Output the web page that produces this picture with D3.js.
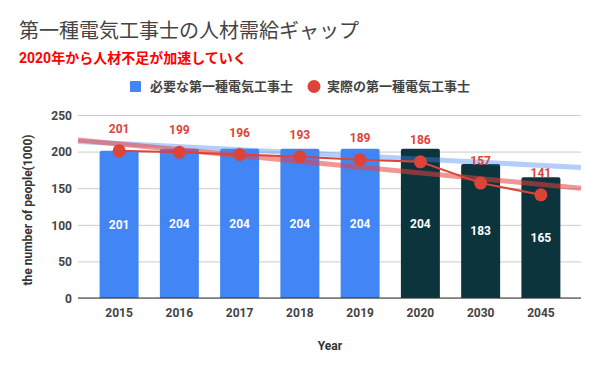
<!DOCTYPE html>
<html>
<head>
<meta charset="utf-8">
<script src="https://cdn.jsdelivr.net/npm/d3@7"></script>
<style>
body { margin: 0; background: #fff; }
svg text { font-family: Roboto, "Noto Sans CJK JP", sans-serif; }
</style>
</head>
<body>
<div class="chart"></div>
<script>
var WIDTH = 600,
	HEIGHT = 371;

var years = ["2015", "2016", "2017", "2018", "2019", "2020", "2030", "2045"];
var needed = [201, 204, 204, 204, 204, 204, 183, 165];
var actual = [201, 199, 196, 193, 189, 186, 157, 141];
var yTicks = [0, 50, 100, 150, 200, 250];
var forecastFrom = "2020";

var BLUE = "#4285f4",
	DARK = "#0c343d",
	RED = "#db4437",
	TEXT = "#444";

var CJK = "'Noto Sans CJK JP', sans-serif";

var svg = d3.select(".chart").append("svg")
	.attr("width", WIDTH)
	.attr("height", HEIGHT);

var xScale = d3.scaleBand()
	.domain(years)
	.range([89, 571])
	.paddingInner(0.353)
	.paddingOuter(0.176);

var yScale = d3.scaleLinear()
	.domain([0, 250])
	.range([298, 115]);

var plotLeft = 78, plotRight = 581;

// title
svg.append("text")
	.attr("x", 19).attr("y", 38)
	.style("font-family", CJK)
	.style("font-size", "20px")
	.attr("fill", TEXT)
	.text("第一種電気工事士の人材需給ギャップ");

svg.append("text")
	.attr("x", 19).attr("y", 63)
	.style("font-family", "Roboto, 'Noto Sans CJK JP', sans-serif")
	.style("font-size", "14px")
	.style("font-weight", "bold")
	.attr("fill", "#ff0000")
	.text("2020年から人材不足が加速していく");

// legend
svg.append("rect")
	.attr("x", 130).attr("y", 81)
	.attr("width", 11).attr("height", 11)
	.attr("rx", 1)
	.attr("fill", BLUE);
svg.append("text")
	.attr("x", 150).attr("y", 91)
	.style("font-family", CJK)
	.style("font-size", "13px")
	.style("font-weight", "bold")
	.attr("fill", TEXT)
	.text("必要な第一種電気工事士");
svg.append("circle")
	.attr("cx", 314).attr("cy", 86.5)
	.attr("r", 6.5)
	.attr("fill", RED);
svg.append("text")
	.attr("x", 327).attr("y", 91)
	.style("font-family", CJK)
	.style("font-size", "13px")
	.style("font-weight", "bold")
	.attr("fill", TEXT)
	.text("実際の第一種電気工事士");

// gridlines + y axis
var yAxis = d3.axisLeft(yScale)
	.tickValues(yTicks)
	.tickSize(-(plotRight - plotLeft))
	.tickPadding(6);

var yAxisGroup = svg.append("g")
	.attr("transform", "translate(" + plotLeft + ",0)")
	.call(yAxis);
yAxisGroup.select(".domain").remove();
yAxisGroup.selectAll("line").attr("stroke", "#ccc");
yAxisGroup.selectAll("text")
	.attr("fill", TEXT)
	.style("font-size", "12px")
	.style("font-weight", "bold")
	.attr("dy", "0.35em");

svg.append("text")
	.attr("transform", "translate(32,210) rotate(-90)")
	.attr("text-anchor", "middle")
	.style("font-size", "12px")
	.style("font-weight", "bold")
	.attr("fill", "#333")
	.text("the number of people(1000)");

// bars
var barPath = function(d, i) {
	var x0 = xScale(years[i]), w = xScale.bandwidth();
	var y0 = yScale(d), y1 = yScale(0), r = 2;
	return "M" + x0 + "," + y1 + "V" + (y0 + r) + "Q" + x0 + "," + y0 + " " + (x0 + r) + "," + y0 +
		"H" + (x0 + w - r) + "Q" + (x0 + w) + "," + y0 + " " + (x0 + w) + "," + (y0 + r) + "V" + y1 + "Z";
};

var forecastIdx = years.indexOf(forecastFrom);

svg.append("g").selectAll("path")
	.data(needed)
	.enter()
	.append("path")
	.attr("d", barPath)
	.attr("fill", function(d, i) { return i >= forecastIdx ? DARK : BLUE; });

// x axis
var xAxis = d3.axisBottom(xScale).tickSize(0).tickPadding(10);
var xAxisGroup = svg.append("g")
	.attr("transform", "translate(0," + yScale(0) + ")")
	.call(xAxis);
xAxisGroup.select(".domain").remove();
xAxisGroup.selectAll("text")
	.attr("fill", TEXT)
	.style("font-size", "12px")
	.style("font-weight", "bold");

svg.append("line")
	.attr("x1", plotLeft).attr("x2", plotRight)
	.attr("y1", yScale(0)).attr("y2", yScale(0))
	.attr("stroke", "#333")
	.attr("stroke-width", 1.2);

svg.append("text")
	.attr("x", 330).attr("y", 350)
	.attr("text-anchor", "middle")
	.style("font-size", "12px")
	.style("font-weight", "bold")
	.attr("fill", "#333")
	.text("Year");

// linear trendlines (least squares over category index)
var step = xScale.step();
var idxToX = function(t) { return xScale(years[0]) + xScale.bandwidth() / 2 + t * step; };
var xToIdx = function(px) { return (px - idxToX(0)) / step; };

var trend = function(vals) {
	var n = vals.length, mx = (n - 1) / 2, my = d3.mean(vals), sxy = 0, sxx = 0;
	vals.forEach(function(v, i) { sxy += (i - mx) * (v - my); sxx += (i - mx) * (i - mx); });
	var slope = sxy / sxx;
	return function(t) { return my + slope * (t - mx); };
};

var drawTrend = function(vals, color, opacity) {
	var f = trend(vals);
	var t0 = xToIdx(plotLeft), t1 = xToIdx(plotRight);
	svg.append("line")
		.attr("x1", plotLeft).attr("y1", yScale(f(t0)))
		.attr("x2", plotRight).attr("y2", yScale(f(t1)))
		.attr("stroke", color)
		.attr("stroke-opacity", opacity)
		.attr("stroke-width", 5);
};

drawTrend(needed, BLUE, 0.4);
drawTrend(actual, "#e8403c", 0.55);

// bar labels
svg.append("g").selectAll("text")
	.data(needed)
	.enter()
	.append("text")
	.attr("x", function(d, i) { return xScale(years[i]) + xScale.bandwidth() / 2; })
	.attr("y", function(d) { return (yScale(d) + yScale(0)) / 2; })
	.attr("dy", "0.35em")
	.attr("text-anchor", "middle")
	.attr("fill", "#fff")
	.style("font-size", "12px")
	.style("font-weight", "bold")
	.text(function(d) { return d; });

// line series
var line = d3.line()
	.x(function(d, i) { return xScale(years[i]) + xScale.bandwidth() / 2; })
	.y(function(d) { return yScale(d); });

svg.append("path")
	.attr("d", line(actual))
	.attr("fill", "none")
	.attr("stroke", RED)
	.attr("stroke-width", 2);

svg.append("g").selectAll("circle")
	.data(actual)
	.enter()
	.append("circle")
	.attr("cx", function(d, i) { return xScale(years[i]) + xScale.bandwidth() / 2; })
	.attr("cy", function(d) { return yScale(d); })
	.attr("r", 6.5)
	.attr("fill", RED);

svg.append("g").selectAll("text")
	.data(actual)
	.enter()
	.append("text")
	.attr("x", function(d, i) { return xScale(years[i]) + xScale.bandwidth() / 2; })
	.attr("y", function(d) { return yScale(d) - 18; })
	.attr("text-anchor", "middle")
	.attr("fill", RED)
	.style("font-size", "12px")
	.style("font-weight", "bold")
	.text(function(d) { return d; });
</script>
</body>
</html>
